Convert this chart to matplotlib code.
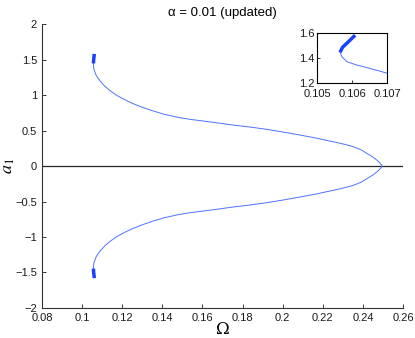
import matplotlib
matplotlib.use("Agg")
import matplotlib.pyplot as plt

# Upper branch (thin): Omega vs a1
omega_up = [0.10565, 0.10570, 0.10584, 0.10612, 0.1065, 0.1070, 0.1080, 0.1095,
            0.1115, 0.1140, 0.1170, 0.1205, 0.1245, 0.1290, 0.1347, 0.1410,
            0.1480, 0.1540, 0.1604, 0.1680, 0.1754, 0.1840, 0.1920, 0.2000,
            0.2086, 0.2170, 0.2252, 0.2310, 0.2352, 0.2390, 0.2419, 0.2448,
            0.2469, 0.2484, 0.2492, 0.2495]
a1_up = [1.445, 1.411, 1.371, 1.345, 1.318, 1.279, 1.235, 1.180,
         1.120, 1.060, 1.000, 0.945, 0.890, 0.838, 0.782, 0.728,
         0.685, 0.657, 0.634, 0.606, 0.577, 0.548, 0.517, 0.480,
         0.437, 0.392, 0.342, 0.305, 0.272, 0.230, 0.179, 0.130,
         0.085, 0.045, 0.018, 0.0]

# Lower branch (mirror of the upper one in the picture)
omega_lo = omega_up
a1_lo = [-v for v in a1_up]

# Thick segments near the turning point
omega_thick = [0.10565, 0.10572, 0.10589, 0.10608]
a1_thick_up = [1.445, 1.484, 1.529, 1.580]
a1_thick_lo = [-1.445, -1.484, -1.529, -1.580]

thin_color = (0.3, 0.45, 1.0)
thick_color = (0.1, 0.25, 1.0)

plt.rcParams["font.family"] = ["Liberation Sans", "DejaVu Sans"]
plt.rcParams["mathtext.fontset"] = "stix"

fig = plt.figure(figsize=(4.15, 3.38), dpi=100)
ax = fig.add_axes([0.1012, 0.0888, 0.8699, 0.840])

ax.axhline(0, color="0.15", lw=0.9)
ax.plot(omega_up, a1_up, color=thin_color, lw=0.7)
ax.plot(omega_lo, a1_lo, color=thin_color, lw=0.7)
ax.plot(omega_thick, a1_thick_up, color=thick_color, lw=2.5, solid_capstyle="butt")
ax.plot(omega_thick, a1_thick_lo, color=thick_color, lw=2.5, solid_capstyle="butt")

ax.set_xlim(0.08, 0.26)
ax.set_ylim(-2, 2)
ax.set_xticks([0.08, 0.1, 0.12, 0.14, 0.16, 0.18, 0.2, 0.22, 0.24, 0.26])
ax.set_xticklabels(["0.08", "0.1", "0.12", "0.14", "0.16", "0.18", "0.2",
                    "0.22", "0.24", "0.26"])
ax.set_yticks([-2, -1.5, -1, -0.5, 0, 0.5, 1, 1.5, 2])
ax.set_yticklabels(["\u22122", "\u22121.5", "\u22121", "\u22120.5", "0",
                    "0.5", "1", "1.5", "2"])
ax.spines["top"].set_visible(False)
ax.spines["right"].set_visible(False)
for s in ["left", "bottom"]:
    ax.spines[s].set_color("0.2")
    ax.spines[s].set_linewidth(0.8)
ax.tick_params(direction="in", length=3, width=0.6, labelsize=8, colors="0.1")
ax.set_xlabel("\u03a9", fontfamily="serif", fontsize=12)
ax.xaxis.set_label_coords(0.5, -0.047)
ax.set_ylabel("$a_1$", fontsize=13)
ax.yaxis.set_label_coords(-0.07, 0.5)
ax.set_title("\u03b1 = 0.01 (updated)", fontsize=9.5, pad=6)

# inset
ins = fig.add_axes([0.7646, 0.7536, 0.1687, 0.1497])
ins.plot(omega_up, a1_up, color=thin_color, lw=0.7)
ins.plot(omega_thick, a1_thick_up, color=thick_color, lw=2.5, solid_capstyle="butt")
ins.set_xlim(0.105, 0.107)
ins.set_ylim(1.2, 1.6)
ins.set_xticks([0.105, 0.106, 0.107])
ins.set_xticklabels(["0.105", "0.106", "0.107"])
ins.set_yticks([1.2, 1.4, 1.6])
ins.set_yticklabels(["1.2", "1.4", "1.6"])
ins.tick_params(direction="in", length=2, width=0.6, labelsize=8, colors="0.1")
ins.tick_params(axis="x", pad=4)
ins.tick_params(axis="y", pad=2)
for s in ins.spines.values():
    s.set_linewidth(0.8)

fig.savefig("out.png", dpi=100)
